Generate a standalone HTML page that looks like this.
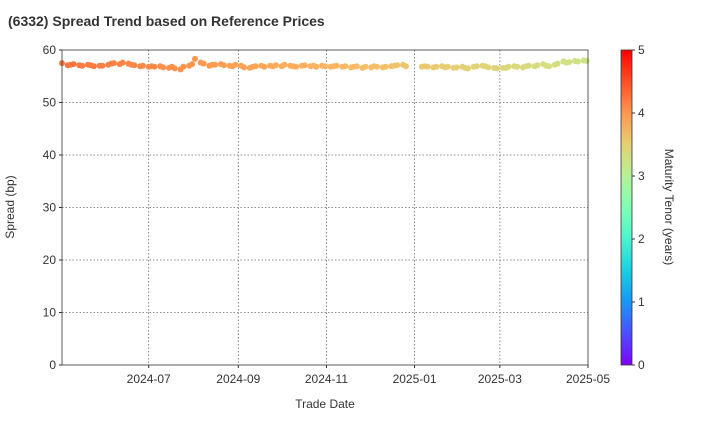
<!DOCTYPE html>
<html><head><meta charset="utf-8"><style>
body{margin:0;background:#fff;font-family:"Liberation Sans",Arial,sans-serif}
text{font-family:"Liberation Sans",Arial,sans-serif}
</style></head><body>
<svg id="c" width="720" height="420">
<defs><linearGradient id="cb" x1="0" y1="1" x2="0" y2="0">
<stop offset="0" stop-color="#8000ff"/><stop offset="0.1" stop-color="#4c4ffc"/><stop offset="0.2" stop-color="#1996f3"/><stop offset="0.3" stop-color="#1acfe3"/><stop offset="0.4" stop-color="#4df3ce"/><stop offset="0.5" stop-color="#80ffb4"/><stop offset="0.6" stop-color="#b3f396"/><stop offset="0.7" stop-color="#e6cf73"/><stop offset="0.8" stop-color="#ff964f"/><stop offset="0.9" stop-color="#ff4f28"/><stop offset="1" stop-color="#ff0000"/>
</linearGradient></defs>
<text x="8" y="26" font-size="14" font-weight="bold" fill="#333">(6332)   Spread Trend based on Reference Prices</text>
<g id="grid"></g><g id="pts"></g><g id="axes"></g>
<rect x="621" y="50" width="11" height="315" fill="url(#cb)" stroke="#333" stroke-width="0.8"/>
<text x="0" y="0" transform="translate(665,207) rotate(90)" text-anchor="middle" font-size="12" fill="#333">Maturity Tenor (years)</text>
<text x="325" y="408" text-anchor="middle" font-size="12" fill="#333">Trade Date</text>
<text transform="translate(14,207) rotate(-90)" text-anchor="middle" font-size="12" fill="#333">Spread (bp)</text>
</svg>
<script>
const yTicks=[0,10,20,30,40,50,60];
const xTickLabels=["2024-07","2024-09","2024-11","2025-01","2025-03","2025-05"];
const cbTicks=[0,1,2,3,4,5];
const maturityDate="2028-07-31";
const spreads=[57.5,57.1,57.2,57.3,57.1,57.0,57.2,57.1,56.9,57.0,
57.0,57.2,57.4,57.5,57.3,57.6,57.4,57.2,57.1,56.9,
57.0,56.8,56.9,56.8,56.9,56.7,56.6,56.8,56.5,56.3,
56.8,57.0,57.3,58.3,57.6,57.4,57.0,57.2,57.2,57.3,
57.1,57.0,56.9,57.2,57.0,56.7,56.6,56.8,56.9,57.0,
56.8,57.0,56.9,57.1,56.9,57.2,57.0,56.9,56.8,57.0,
57.1,56.9,57.0,56.8,57.0,56.9,56.8,56.9,57.0,56.8,
56.9,56.7,56.8,56.9,56.6,56.8,56.7,56.9,56.8,56.7,
56.8,56.9,57.0,57.1,57.2,56.9,56.8,56.9,56.8,56.7,
56.8,56.9,56.7,56.8,56.6,56.7,56.8,56.6,56.5,56.8,
56.9,57.0,56.9,56.7,56.6,56.5,56.6,56.6,56.8,56.9,
56.8,56.7,56.9,57.0,56.9,57.1,57.3,57.0,56.9,57.2,
57.4,57.8,57.6,57.7,57.9,57.8,58.0,57.9];
const NS="http://www.w3.org/2000/svg";
const L=62,R=588,T=50,B=365;
const t0=Date.UTC(2024,4,2),t1=Date.UTC(2025,4,1);
const xs=t=>L+(t-t0)/(t1-t0)*(R-L);
const ys=v=>B-v/60*(B-T);
function mk(tag,a,p){const e=document.createElementNS(NS,tag);for(const k in a)e.setAttribute(k,a[k]);p.appendChild(e);return e;}
const grid=document.getElementById('grid'),axes=document.getElementById('axes'),pts=document.getElementById('pts');
yTicks.forEach(v=>{const y=ys(v);
 if(v>0&&v<60){const g=mk('line',{x1:L,x2:R,y1:y,y2:y,stroke:'#666','stroke-dasharray':'1.5,2','stroke-width':0.8},grid);
 }
 const t=mk('text',{x:L-6,y:y+4,'text-anchor':'end','font-size':12,fill:'#333'},axes);t.textContent=v;
 
 mk('line',{x1:L-3,x2:L,y1:y,y2:y,stroke:'#333'},axes);});
xTickLabels.forEach(s=>{const [yy,mm]=s.split('-').map(Number);const x=xs(Date.UTC(yy,mm-1,1));
 if(x<R-1){const g=mk('line',{x1:x,x2:x,y1:T,y2:B,stroke:'#666','stroke-dasharray':'1.5,2','stroke-width':0.8},grid);
 }
 mk('line',{x1:x,x2:x,y1:B,y2:B+3,stroke:'#333'},axes);
 const t=mk('text',{x:x,y:B+18,'text-anchor':'middle','font-size':12,fill:'#333'},axes);t.textContent=s;
 });
const fr=mk('rect',{x:L,y:T,width:R-L,height:B-T,fill:'none',stroke:'#333','stroke-width':0.8},axes);

cbTicks.forEach(v=>{const y=B-v/5*(B-T);mk('line',{x1:632,x2:635,y1:y,y2:y,stroke:'#333'},axes);
 const t=mk('text',{x:638,y:y+4,'font-size':12,fill:'#333'},axes);t.textContent=v;
 });
const dates=[];let k=0;
for(let t=t0;t<=t1;t+=86400000){const d=new Date(t),w=d.getUTCDay();if(w==0||w==6)continue;
 if(t>=Date.UTC(2024,11,28)&&t<=Date.UTC(2025,0,5))continue;if(k++%2==0)dates.push(t);}
const mat=Date.parse(maturityDate);
function rainbow(x){const r=Math.min(1,Math.abs(2*x-0.5)),g=Math.sin(Math.PI*x),b=Math.cos(Math.PI*x/2);
 return `rgb(${Math.round(r*255)},${Math.round(g*255)},${Math.round(Math.max(0,b)*255)})`;}
const n=Math.min(dates.length,spreads.length);
for(let i=0;i<n;i++){const ten=(mat-dates[i])/(365.25*86400000);
 const c=mk('circle',{cx:xs(dates[i]),cy:ys(spreads[i]),r:3,fill:rainbow(ten/5)},pts);
 }
</script>
</body></html>
